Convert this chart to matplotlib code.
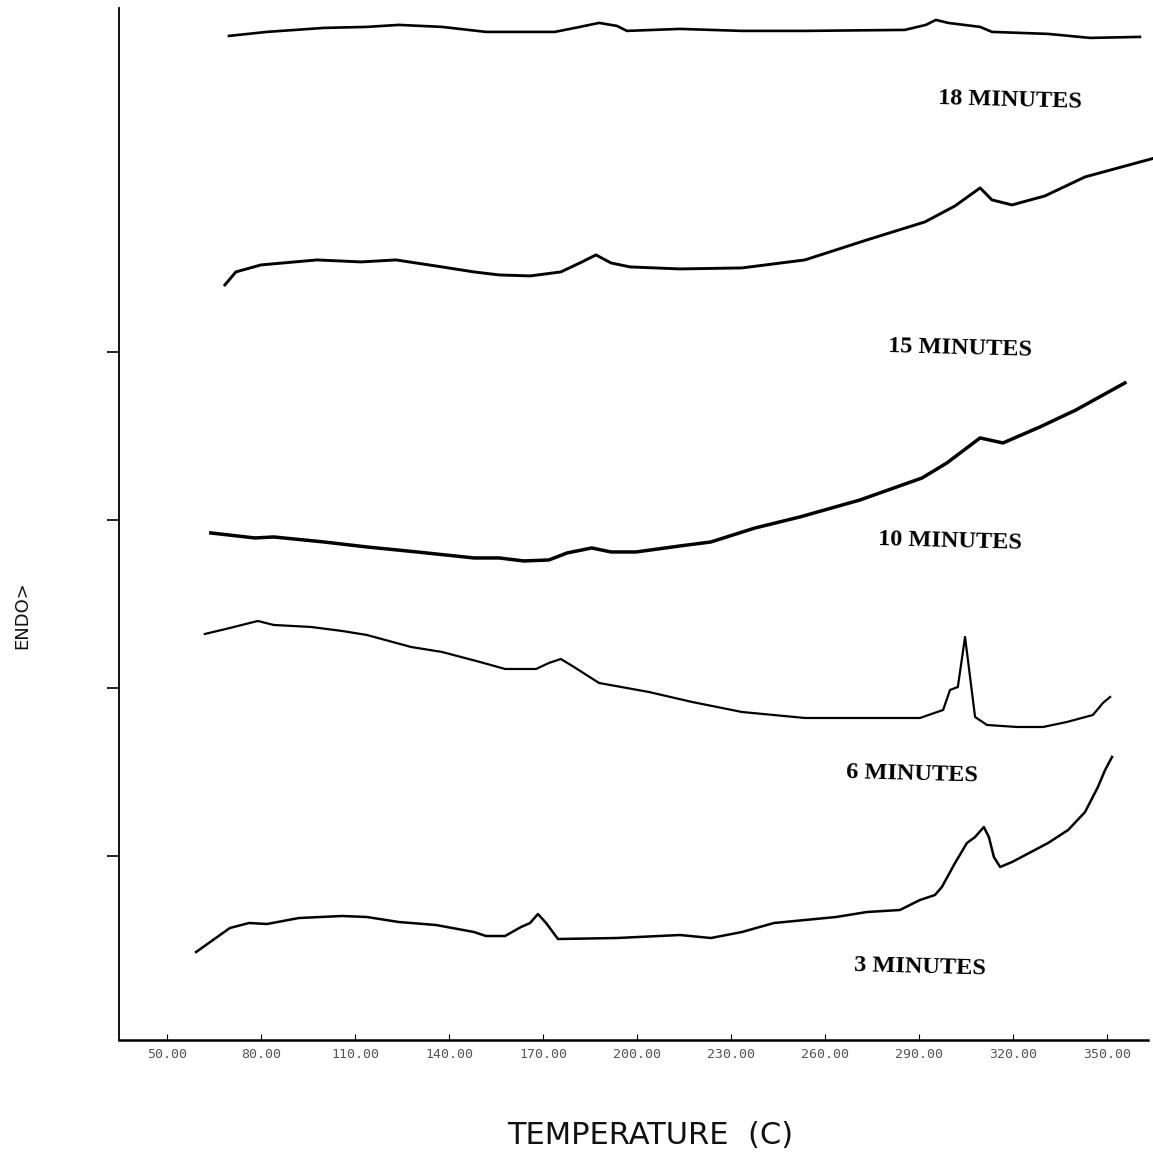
import numpy as np
import matplotlib
matplotlib.use("Agg")
import matplotlib.pyplot as plt

# DSC traces, endotherm up, offset per cure time (arbitrary units)
t3 = [59.3, 70.1, 76.2, 81.9, 92.1, 105.9, 113.8, 124.0, 135.9, 148.0, 151.8, 157.9,
      163.0, 165.9, 168.4, 171.0, 174.8, 193.6, 213.7, 223.6, 233.5, 243.7, 263.5,
      273.4, 283.9, 290.3, 295.1, 297.3, 301.5, 305.3, 307.9, 310.7, 312.3, 313.9,
      315.9, 319.7, 331.2, 337.6, 343.0, 347.1, 349.4, 351.6]
y3 = [8.8, 11.2, 11.7, 11.6, 12.2, 12.4, 12.3, 11.8, 11.5, 10.8, 10.4, 10.4,
      11.3, 11.7, 12.6, 11.7, 10.1, 10.2, 10.5, 10.2, 10.8, 11.7, 12.3,
      12.8, 13.0, 14.0, 14.5, 15.3, 17.7, 19.7, 20.3, 21.3, 20.3, 18.3,
      17.3, 17.8, 19.7, 21.0, 22.8, 25.3, 27.0, 28.3]

t6 = [62.1, 70.1, 79.0, 84.1, 96.0, 105.9, 113.8, 127.9, 137.8, 149.9, 157.9, 167.8,
      171.9, 175.7, 179.9, 187.9, 203.8, 217.6, 233.5, 253.6, 277.6, 290.3, 297.7,
      299.9, 302.4, 304.7, 307.9, 311.7, 321.3, 329.6, 337.2, 345.5, 348.7, 351.0]
y6 = [40.6, 41.2, 41.9, 41.5, 41.3, 40.9, 40.5, 39.3, 38.8, 37.8, 37.1, 37.1,
      37.7, 38.1, 37.3, 35.7, 34.8, 33.8, 32.8, 32.2, 32.2, 32.2, 33.0,
      35.0, 35.3, 40.3, 32.3, 31.5, 31.3, 31.3, 31.8, 32.5, 33.7, 34.3]

t10 = [64.0, 78.1, 84.1, 100.1, 113.8, 129.8, 148.0, 156.0, 163.9, 171.9, 177.7,
       185.6, 191.7, 199.7, 213.7, 223.6, 237.7, 252.0, 271.2, 291.0, 298.9, 309.5,
       316.8, 328.6, 340.1, 355.7]
y10 = [50.7, 50.2, 50.3, 49.8, 49.3, 48.8, 48.2, 48.2, 47.9, 48.0, 48.7,
       49.2, 48.8, 48.8, 49.4, 49.8, 51.2, 52.3, 54.0, 56.2, 57.7, 60.2,
       59.7, 61.3, 63.0, 65.7]

t15 = [68.5, 72.0, 80.0, 97.9, 111.9, 123.1, 137.8, 148.0, 156.0, 165.9, 175.7,
       181.8, 186.9, 191.7, 197.8, 213.7, 233.5, 253.6, 273.4, 291.9, 301.5, 309.5,
       313.3, 319.7, 330.2, 343.0, 365.3]
y15 = [75.5, 76.8, 77.5, 78.0, 77.8, 78.0, 77.3, 76.8, 76.5, 76.4, 76.8,
       77.7, 78.5, 77.7, 77.3, 77.1, 77.2, 78.0, 80.0, 81.8, 83.4, 85.2,
       84.0, 83.5, 84.4, 86.3, 88.2]

t18 = [69.8, 81.9, 100.1, 113.8, 124.0, 137.8, 151.8, 173.8, 181.8, 187.9, 193.6,
       196.8, 213.7, 233.5, 253.6, 285.5, 292.2, 295.4, 299.3, 309.5, 313.3, 331.2,
       344.6, 360.5]
y18 = [100.4, 100.8, 101.2, 101.3, 101.5, 101.3, 100.8, 100.8, 101.3, 101.7, 101.4,
       100.9, 101.1, 100.9, 100.9, 101.0, 101.5, 102.0, 101.7, 101.3, 100.8, 100.6,
       100.2, 100.3]

labels = ["3 MINUTES", "6 MINUTES", "10 MINUTES", "15 MINUTES", "18 MINUTES"]
label_t = [290.3, 287.8, 299.9, 303.1, 319.0]
label_y = [7.3, 26.6, 49.9, 69.2, 94.0]

xticks = np.arange(50, 351, 30)

fig = plt.figure(figsize=(11.53, 11.61), dpi=100)
ax = fig.add_axes([0.1032, 0.1042, 0.8925, 0.889])

traces = [(t3, y3, 1.8), (t6, y6, 1.6), (t10, y10, 2.5), (t15, y15, 2.1), (t18, y18, 1.9)]
for t, y, lw in traces:
    ax.plot(t, y, color="black", lw=lw, clip_on=False, solid_joinstyle="round")

for s, tx, ty in zip(labels, label_t, label_y):
    ax.text(tx, ty, s, ha="center", va="center", fontsize=17.5, fontweight="bold",
            family="Liberation Serif", rotation=-1.5)

ax.set_xlim(34.7, 363.1)
ax.set_ylim(0, 103.2)
ax.spines["top"].set_visible(False)
ax.spines["right"].set_visible(False)
ax.spines["left"].set_linewidth(1.3)
ax.spines["bottom"].set_linewidth(1.8)

ax.set_xticks(xticks)
ax.set_xticklabels(["%.2f" % v for v in xticks], family="DejaVu Sans Mono",
                   fontsize=9.5, color="#555555")
ax.tick_params(axis="x", direction="in", length=4, pad=6)
ax.set_yticks([18.4, 35.2, 52.0, 68.8])
ax.set_yticklabels([])
ax.tick_params(axis="y", direction="out", length=9, width=1.2)

fig.text(0.019, 0.47, "ENDO>", rotation=90, ha="center", va="center",
         fontsize=13, family="DejaVu Sans", color="#111111")
fig.text(0.564, 0.022, "TEMPERATURE  (C)", ha="center", va="center",
         fontsize=22, family="DejaVu Sans", color="#111111")

fig.savefig("out.png", dpi=100)
